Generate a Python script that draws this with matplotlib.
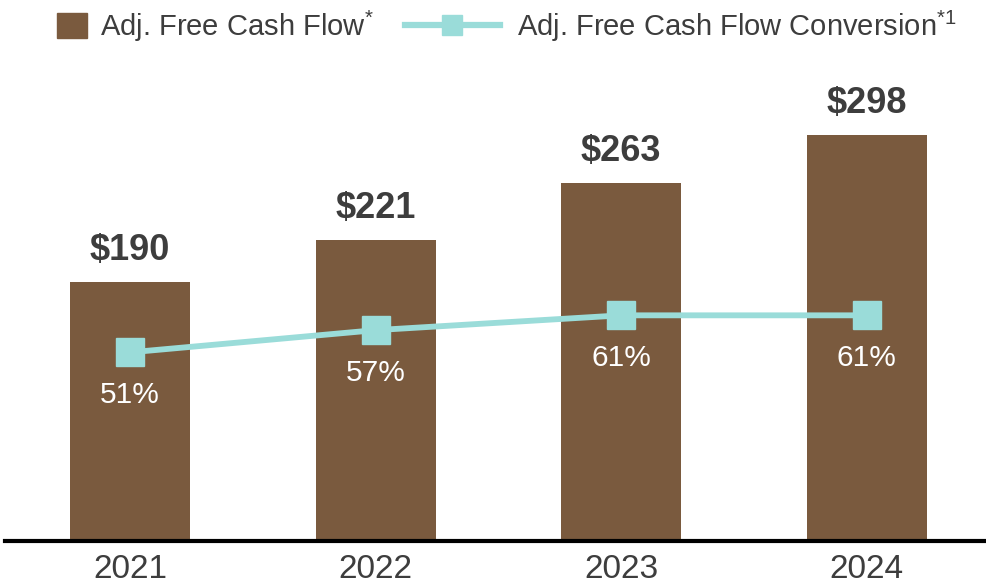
import matplotlib
matplotlib.use("Agg")
import matplotlib.pyplot as plt
from matplotlib.lines import Line2D
from matplotlib.patches import Patch

years = ["2021", "2022", "2023", "2024"]
fcf = [190, 221, 263, 298]
conversion = [51, 57, 61, 61]

brown = "#7a5a3e"
teal = "#9adcd9"
dark = "#3d3d3d"

plt.rcParams['font.family'] = ['Liberation Sans', 'DejaVu Sans']
plt.rcParams['mathtext.fontset'] = 'custom'
plt.rcParams['mathtext.rm'] = 'Liberation Sans'

fig = plt.figure(figsize=(9.87, 5.85), dpi=100)
ax = fig.add_axes([0.005, 0.0752, 0.995, 0.788])
x = list(range(len(years)))

ax.bar(x, fcf, width=0.49, color=brown, zorder=2)
ax.set_xlim(-0.51, 3.49)
ax.set_ylim(0, 338.2)
for xi, v in zip(x, fcf):
    ax.text(xi, v + 23, "$%d" % v, ha="center", va="center", fontsize=26,
            fontweight="bold", color=dark)

ax2 = ax.twinx()
ax2.set_ylim(0, 124.6)
ax2.plot(x, conversion, color=teal, lw=4.2, marker="s", markersize=20,
         zorder=3)
for xi, v in zip(x, conversion):
    ax2.text(xi, v - 11.5, "%d%%" % v, ha="center", va="center", fontsize=21.5,
             color="white")

for a in (ax, ax2):
    for s in ["top", "right", "left"]:
        a.spines[s].set_visible(False)
    a.set_yticks([])
ax2.spines["bottom"].set_visible(False)
ax.spines["bottom"].set_linewidth(3)
ax.spines["bottom"].set_color("black")
ax.set_xticks(x)
ax.set_xticklabels(years, fontsize=24, color=dark)
ax.tick_params(axis="x", length=0, pad=9)

# two legends so each handle gets its own width
fig.legend([Patch(color=brown)], [r"Adj. Free Cash Flow$^{*}$"],
           loc="center left", bbox_to_anchor=(0.0578, 0.9556), frameon=False,
           fontsize=21, borderpad=0, borderaxespad=0, handlelength=1.03,
           handleheight=0.96, handletextpad=0.45, labelcolor=dark)
fig.legend([Line2D([], [], color=teal, lw=4.5, marker="s", markersize=14.5)],
           [r"Adj. Free Cash Flow Conversion$^{*1}$"],
           loc="center left", bbox_to_anchor=(0.4103, 0.9556), frameon=False,
           fontsize=21, borderpad=0, borderaxespad=0, handlelength=3.25,
           handletextpad=0.58, labelcolor=dark)

fig.savefig("out.png", dpi=100)
